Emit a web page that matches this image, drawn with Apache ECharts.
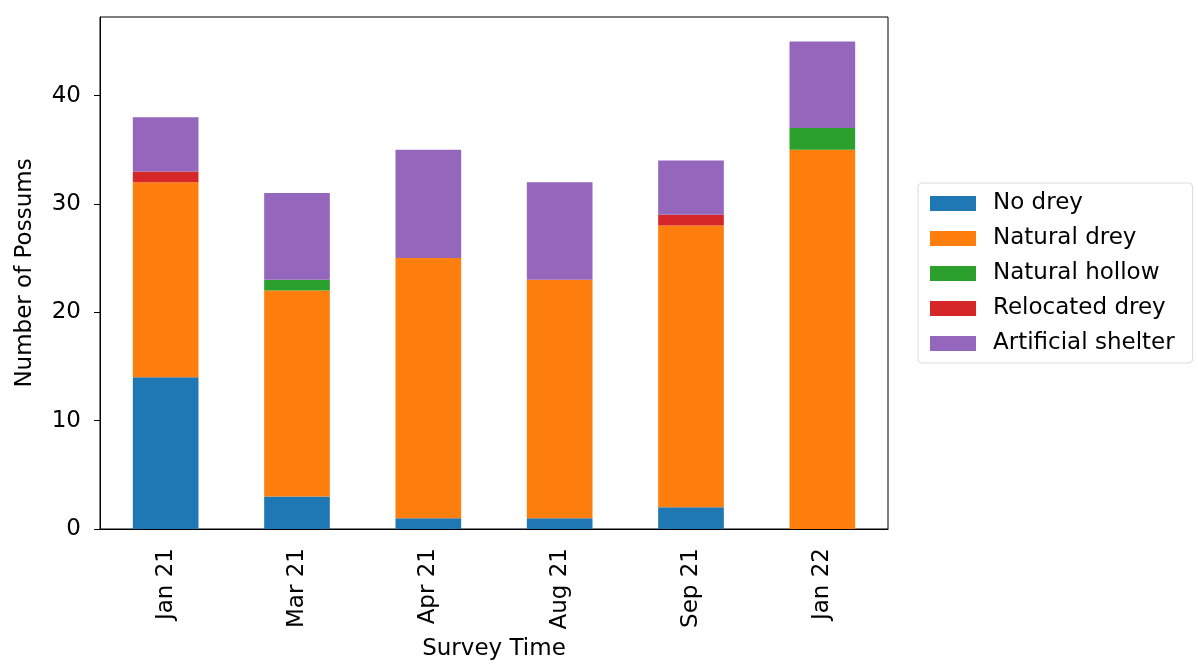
<!DOCTYPE html>
<html>
<head>
<meta charset="utf-8">
<script src="https://cdn.jsdelivr.net/npm/echarts@6/dist/echarts.min.js"></script>
<style>
  html, body { margin: 0; padding: 0; background: #fff; }
  #chart { width: 1198px; height: 671px; }
</style>
</head>
<body>
<div id="chart"></div>
<script>
const categories = ['Jan 21', 'Mar 21', 'Apr 21', 'Aug 21', 'Sep 21', 'Jan 22']
const noDrey = [14, 3, 1, 1, 2, 0]
const naturalDrey = [18, 19, 24, 22, 26, 35]
const naturalHollow = [0, 1, 0, 0, 0, 2]
const relocatedDrey = [1, 0, 0, 0, 1, 0]
const artificialShelter = [5, 8, 10, 9, 5, 8]

const seriesDefs = [
  { name: 'No drey', data: noDrey, color: '#1f77b4' },
  { name: 'Natural drey', data: naturalDrey, color: '#ff7f0e' },
  { name: 'Natural hollow', data: naturalHollow, color: '#2ca02c' },
  { name: 'Relocated drey', data: relocatedDrey, color: '#d62728' },
  { name: 'Artificial shelter', data: artificialShelter, color: '#9467bd' }
]

const font = 'DejaVu Sans'
const fs = 23
const chart = echarts.init(document.getElementById('chart'))
chart.setOption({
  animation: false,
  textStyle: { fontFamily: font },
  grid: {
    left: 100,
    right: 310,
    top: 17,
    bottom: 142,
    show: true,
    borderColor: '#000',
    borderWidth: 1
  },
  legend: {
    orient: 'vertical',
    left: 918,
    top: 183,
    padding: [9, 18, 8, 12],
    backgroundColor: '#fff',
    borderColor: '#d9d9d9',
    borderWidth: 1,
    borderRadius: 4,
    itemWidth: 46,
    itemHeight: 15,
    itemGap: 12,
    icon: 'rect',
    textStyle: { fontFamily: font, fontSize: fs, color: '#000', lineHeight: 23, padding: [0, 0, 0, 12] },
    data: seriesDefs.map(s => s.name)
  },
  xAxis: {
    type: 'category',
    data: categories,
    name: 'Survey Time',
    nameLocation: 'middle',
    nameGap: 106,
    nameTextStyle: { fontFamily: font, fontSize: fs, color: '#000' },
    axisLine: { lineStyle: { color: '#000', width: 1 } },
    axisTick: { alignWithLabel: true, length: 6, lineStyle: { color: '#000' } },
    axisLabel: { rotate: 90, fontFamily: font, fontSize: fs, color: '#000', margin: 19 },
    splitLine: { show: false }
  },
  yAxis: {
    type: 'value',
    min: 0,
    max: 47.25,
    interval: 10,
    name: 'Number of Possums',
    nameLocation: 'middle',
    nameGap: 63,
    nameTextStyle: { fontFamily: font, fontSize: fs, color: '#000' },
    axisLine: { show: true, lineStyle: { color: '#000', width: 1 } },
    axisTick: { show: true, length: 6, lineStyle: { color: '#000' } },
    axisLabel: { fontFamily: font, fontSize: fs, color: '#000', margin: 19, showMaxLabel: false },
    splitLine: { show: false }
  },
  series: seriesDefs.map(s => ({
    name: s.name,
    type: 'bar',
    stack: 'total',
    barWidth: '50%',
    data: s.data,
    itemStyle: { color: s.color }
  }))
})
</script>
</body>
</html>
